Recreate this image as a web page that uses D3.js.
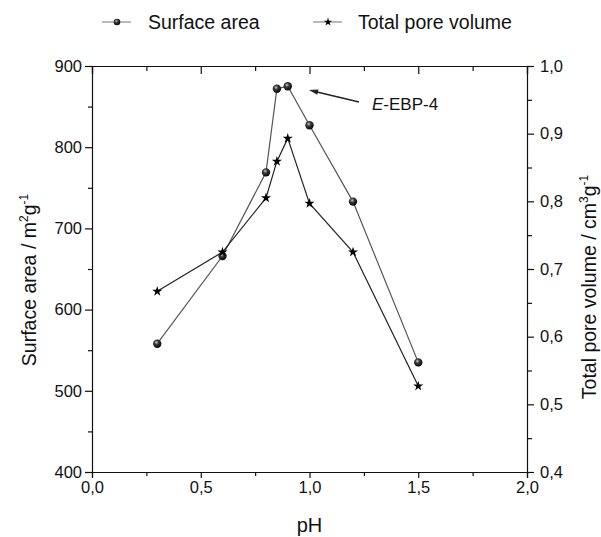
<!DOCTYPE html>
<html lang="en">
<head>
<meta charset="UTF-8">
<title>Surface area and pore volume vs pH</title>
<script src="https://cdn.jsdelivr.net/npm/d3@7/dist/d3.min.js"></script>
<style>
    body{ margin:0; background:#fff; font-family:"Liberation Sans", Arial, sans-serif; }
    .axis text{ font-family:"Liberation Sans", Arial, sans-serif; font-size:16.5px; fill:#111; }
    .axis path, .axis line{ stroke:#111; stroke-width:1.2; }
</style>
</head>
<body>
<svg id="main" width="601" height="537"></svg>
<script>
    // data
    const pH = [0.3, 0.6, 0.8, 0.85, 0.9, 1.0, 1.2, 1.5]
    const surfaceArea = [558, 666, 769, 872, 875, 827, 733, 535]
    const poreVolume = [0.667, 0.725, 0.805, 0.859, 0.893, 0.797, 0.725, 0.527]
    const xTicks = [0, 0.5, 1.0, 1.5, 2.0]
    const xMinor = [0.25, 0.75, 1.25, 1.75]
    const leftTicks = [400, 500, 600, 700, 800, 900]
    const leftMinor = [450, 550, 650, 750, 850]
    const rightTicks = [0.4, 0.5, 0.6, 0.7, 0.8, 0.9, 1.0]
    const rightMinor = [0.45, 0.55, 0.65, 0.75, 0.85, 0.95]

    const margin = {top: 66, bottom: 65, left: 92, right: 74}
    const width = 601, height = 537
    const svg = d3.select("svg#main")

    const x = d3.scaleLinear().domain([0, 2]).range([margin.left, width - margin.right])
    const yL = d3.scaleLinear().domain([400, 900]).range([height - margin.bottom, margin.top])
    const yR = d3.scaleLinear().domain([0.4, 1.0]).range([height - margin.bottom, margin.top])
    const comma = d => d3.format(".1f")(d).replace(".", ",")

    // shaded ball marker
    const defs = svg.append("defs")
    const grad = defs.append("radialGradient").attr("id", "ball")
        .attr("cx", "40%").attr("cy", "35%").attr("r", "70%")
    grad.append("stop").attr("offset", "0%").attr("stop-color", "#cfcfcf")
    grad.append("stop").attr("offset", "35%").attr("stop-color", "#3a3a3a")
    grad.append("stop").attr("offset", "100%").attr("stop-color", "#000")

    // axes: major + minor ticks
    const bottomAxis = svg.append("g").attr("class", "axis")
        .attr("transform", `translate(0,${yL.range()[0]})`)
    bottomAxis.call(d3.axisBottom(x).tickValues(xTicks).tickSize(6).tickPadding(3).tickFormat(comma))
    bottomAxis.append("g").call(d3.axisBottom(x).tickValues(xMinor).tickSize(4).tickFormat(""))
        .select(".domain").remove()

    // top frame, ticks pointing inward
    const topAxis = svg.append("g").attr("class", "axis")
        .attr("transform", `translate(0,${margin.top})`)
    topAxis.call(d3.axisBottom(x).tickValues(xTicks).tickSize(8).tickFormat(""))
    topAxis.append("g").call(d3.axisBottom(x).tickValues(xMinor).tickSize(5).tickFormat(""))
        .select(".domain").remove()

    const leftAxis = svg.append("g").attr("class", "axis")
        .attr("transform", `translate(${margin.left},0)`)
    leftAxis.call(d3.axisLeft(yL).tickValues(leftTicks).tickSize(7).tickPadding(3).tickFormat(d3.format("d")))
    leftAxis.append("g").call(d3.axisLeft(yL).tickValues(leftMinor).tickSize(4).tickFormat(""))
        .select(".domain").remove()

    const rightAxis = svg.append("g").attr("class", "axis")
        .attr("transform", `translate(${width - margin.right},0)`)
    rightAxis.call(d3.axisRight(yR).tickValues(rightTicks).tickSize(7).tickPadding(6).tickFormat(comma))
    rightAxis.append("g").call(d3.axisRight(yR).tickValues(rightMinor).tickSize(5).tickFormat(""))
        .select(".domain").remove()

    // axis titles
    svg.append("text").attr("x", x(1)).attr("y", 532).attr("text-anchor", "middle")
        .attr("font-size", 20).attr("fill", "#111").text("pH")

    const lt = svg.append("text").attr("transform", "translate(36,280) rotate(-90)")
        .attr("text-anchor", "middle").attr("font-size", 19.5).attr("fill", "#111")
    lt.append("tspan").text("Surface area / m")
    lt.append("tspan").attr("font-size", 12).attr("dy", -8).text("2")
    lt.append("tspan").attr("dy", 8).text("g")
    lt.append("tspan").attr("font-size", 12).attr("dy", -8).text("-1")

    const rt = svg.append("text").attr("transform", "translate(596,287) rotate(-90)")
        .attr("text-anchor", "middle").attr("font-size", 19.5).attr("fill", "#111")
    rt.append("tspan").text("Total pore volume / cm")
    rt.append("tspan").attr("font-size", 12).attr("dy", -8).text("3")
    rt.append("tspan").attr("dy", 8).text("g")
    rt.append("tspan").attr("font-size", 12).attr("dy", -8).text("-1")

    // lines
    const saLine = d3.line().x((d, i) => x(pH[i])).y(d => yL(d))
    const pvLine = d3.line().x((d, i) => x(pH[i])).y(d => yR(d))
    svg.append("path").attr("d", saLine(surfaceArea)).attr("fill", "none")
        .attr("stroke", "#555").attr("stroke-width", 1.2)
    svg.append("path").attr("d", pvLine(poreVolume)).attr("fill", "none")
        .attr("stroke", "#222").attr("stroke-width", 1.2)

    svg.append("g").selectAll("circle").data(surfaceArea).enter().append("circle")
        .attr("cx", (d, i) => x(pH[i])).attr("cy", d => yL(d))
        .attr("r", 4.2).attr("fill", "url(#ball)")
    svg.append("g").selectAll("path").data(poreVolume).enter().append("path")
        .attr("d", d3.symbol().type(d3.symbolStar).size(32)).attr("fill", "#000")
        .attr("transform", (d, i) => `translate(${x(pH[i])},${yR(d)})`)

    // annotation
    defs.append("marker").attr("id", "arrow").attr("viewBox", "0 0 10 10")
        .attr("refX", 1).attr("refY", 5).attr("markerWidth", 9).attr("markerHeight", 7)
        .attr("orient", "auto-start-reverse")
        .append("path").attr("d", "M0,2 L10,5 L0,8 Z").attr("fill", "#222")
    svg.append("line").attr("x1", 359).attr("y1", 102).attr("x2", 317).attr("y2", 92)
        .attr("stroke", "#222").attr("stroke-width", 1.3).attr("marker-end", "url(#arrow)")
    const ann = svg.append("text").attr("x", 372).attr("y", 110).attr("font-size", 17).attr("fill", "#111")
    ann.append("tspan").attr("font-style", "italic").text("E")
    ann.append("tspan").text("-EBP-4")

    // legend
    const legend = [
        {name: "Surface area", x0: 102, tx: 148, kind: "ball"},
        {name: "Total pore volume", x0: 313, tx: 358, kind: "star"}
    ]
    const lg = svg.append("g").selectAll("g").data(legend).enter().append("g")
    lg.append("line").attr("x1", d => d.x0).attr("x2", d => d.x0 + 29)
        .attr("y1", 22).attr("y2", 22).attr("stroke", "#777").attr("stroke-width", 1)
    lg.filter(d => d.kind === "ball").append("circle")
        .attr("cx", d => d.x0 + 15).attr("cy", 22).attr("r", 3.3).attr("fill", "url(#ball)")
    lg.filter(d => d.kind === "star").append("path")
        .attr("d", d3.symbol().type(d3.symbolStar).size(22))
        .attr("transform", d => `translate(${d.x0 + 15},22)`).attr("fill", "#000")
    lg.append("text").attr("x", d => d.tx).attr("y", 28.5).attr("font-size", 19.5)
        .attr("fill", "#111").text(d => d.name)
</script>
</body>
</html>
